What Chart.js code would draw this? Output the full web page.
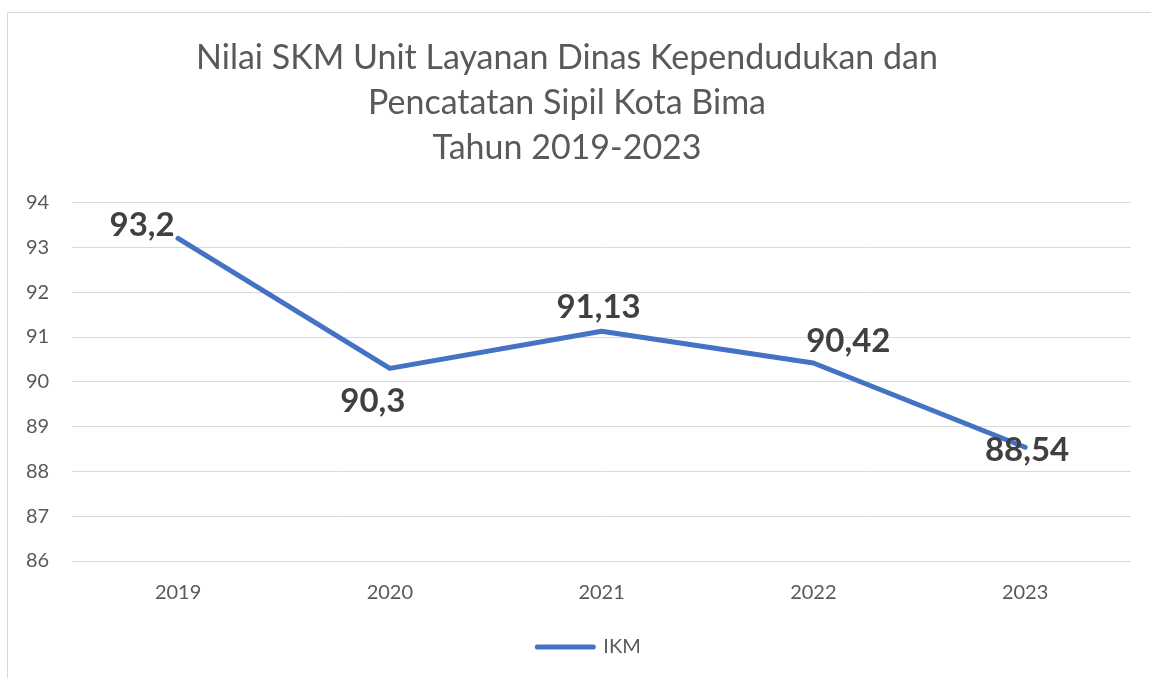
<!DOCTYPE html>
<html>
<head>
<meta charset="utf-8">
<script src="https://cdn.jsdelivr.net/npm/chart.js@4.4.0/dist/chart.umd.min.js"></script>
<style>
  html, body { margin: 0; padding: 0; background: #ffffff; }
  #wrap { width: 1151px; height: 678px; }
</style>
</head>
<body>
<div id="wrap"><canvas id="skmChart" width="1151" height="678"></canvas></div>
<script>
// data
const tahun = ['2019', '2020', '2021', '2022', '2023'];
const nilaiIKM = [93.2, 90.3, 91.13, 90.42, 88.54];
const judul = ['Nilai SKM Unit Layanan Dinas Kependudukan dan', 'Pencatatan Sipil Kota Bima', 'Tahun 2019-2023'];

const teksAbu = '#595959';
const garisBiru = '#4472C4';

// outer chart border, like the excel frame
const bingkai = {
    id: 'bingkai',
    beforeDraw(chart) {
        const ctx = chart.ctx;
        ctx.save();
        ctx.strokeStyle = '#d9d9d9';
        ctx.lineWidth = 1;
        ctx.strokeRect(7.5, 12.5, 1300, 800);
        ctx.restore();
    }
};

// nudge the legend a bit to the right (excel centres it on the whole frame)
const geserLegend = {
    id: 'geserLegend',
    afterLayout(chart) {
        chart.legend.left += 22;
        chart.legend.right += 22;
    }
};

// data labels, hand placed around each point
const labelNilai = {
    id: 'labelNilai',
    afterDatasetsDraw(chart, args, opts) {
        const ctx = chart.ctx;
        const meta = chart.getDatasetMeta(0);
        ctx.save();
        ctx.font = 'bold 33px Lato';
        ctx.fillStyle = '#404040';
        ctx.textAlign = 'center';
        ctx.textBaseline = 'middle';
        meta.data.forEach((pt, i) => {
            const off = opts.offsets[i];
            const txt = String(chart.data.datasets[0].data[i]).replace('.', ',');
            ctx.fillText(txt, pt.x + off[0], pt.y + off[1]);
        });
        ctx.restore();
    }
};

const ctx = document.getElementById('skmChart').getContext('2d');

const skmChart = new Chart(ctx, {
    type: 'line',
    data: {
        labels: tahun,
        datasets: [{
            label: 'IKM',
            data: nilaiIKM,
            borderColor: garisBiru,
            backgroundColor: garisBiru,
            borderWidth: 5,
            borderCapStyle: 'round',
            borderJoinStyle: 'round',
            tension: 0,
            pointRadius: 0,
            pointHoverRadius: 0
        }]
    },
    options: {
        responsive: false,
        animation: false,
        layout: {
            padding: { left: 3, right: 20, top: 2, bottom: 11 }
        },
        scales: {
            x: {
                offset: true,
                grid: { display: false, drawTicks: false },
                border: { display: false },
                ticks: {
                    color: teksAbu,
                    padding: 20,
                    font: { family: 'Lato', size: 20 }
                }
            },
            y: {
                min: 86,
                max: 94,
                grid: { color: '#d9d9d9', lineWidth: 1, drawTicks: false },
                border: { display: false },
                ticks: {
                    stepSize: 1,
                    color: teksAbu,
                    padding: 23,
                    font: { family: 'Lato', size: 20 }
                }
            }
        },
        plugins: {
            title: {
                display: true,
                text: judul,
                color: teksAbu,
                font: { family: 'Lato', size: 34, weight: 'normal', lineHeight: 1.32 },
                padding: { top: 34, bottom: 32 }
            },
            legend: {
                display: true,
                position: 'bottom',
                labels: {
                    usePointStyle: true,
                    pointStyleWidth: 56,
                    padding: 12,
                    color: teksAbu,
                    font: { family: 'Lato', size: 20 },
                    generateLabels(chart) {
                        return chart.data.datasets.map((ds, i) => ({
                            text: ds.label,
                            fillStyle: ds.borderColor,
                            strokeStyle: ds.borderColor,
                            fontColor: teksAbu,
                            lineWidth: 5,
                            lineCap: 'round',
                            pointStyle: 'line',
                            hidden: false,
                            datasetIndex: i
                        }));
                    }
                }
            },
            tooltip: { enabled: false },
            labelNilai: {
                offsets: [[-36, -13], [-17, 33], [-3, -24], [35, -22], [2, 3]]
            }
        }
    },
    plugins: [bingkai, geserLegend, labelNilai]
});
</script>
</body>
</html>
